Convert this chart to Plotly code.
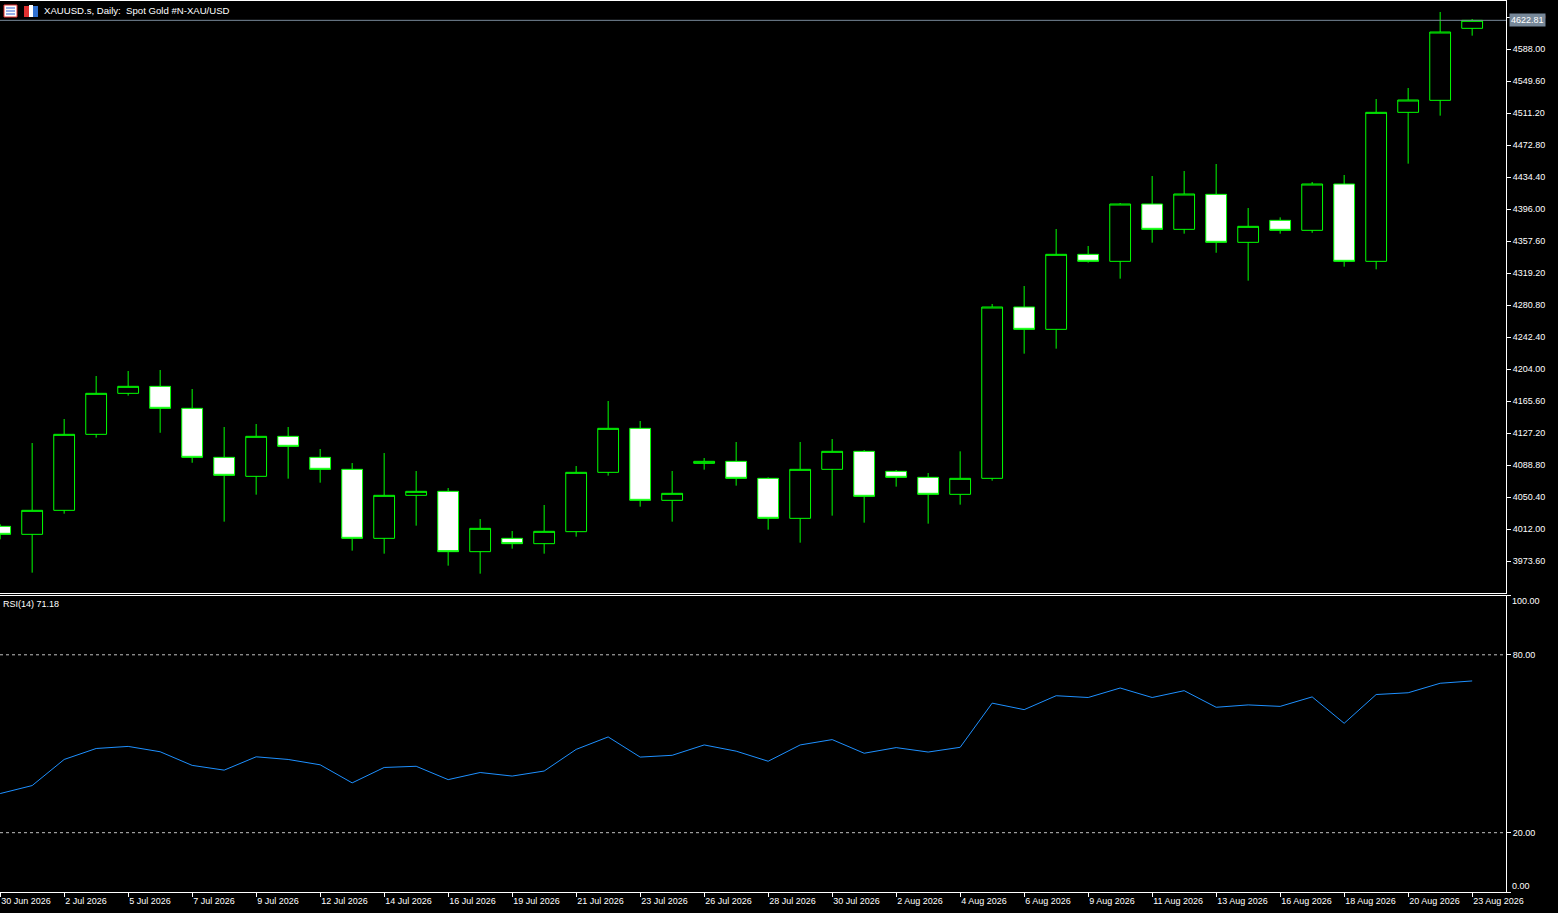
import plotly.graph_objects as go

# Bougies journalières XAUUSD.s (dimanche-vendredi, pas de samedi)
dates = [
    "30 Jun 2026", "1 Jul 2026", "2 Jul 2026", "3 Jul 2026",
    "5 Jul 2026", "6 Jul 2026", "7 Jul 2026", "8 Jul 2026", "9 Jul 2026", "10 Jul 2026",
    "12 Jul 2026", "13 Jul 2026", "14 Jul 2026", "15 Jul 2026", "16 Jul 2026", "17 Jul 2026",
    "19 Jul 2026", "20 Jul 2026", "21 Jul 2026", "22 Jul 2026", "23 Jul 2026", "24 Jul 2026",
    "26 Jul 2026", "27 Jul 2026", "28 Jul 2026", "29 Jul 2026", "30 Jul 2026", "31 Jul 2026",
    "2 Aug 2026", "3 Aug 2026", "4 Aug 2026", "5 Aug 2026", "6 Aug 2026", "7 Aug 2026",
    "9 Aug 2026", "10 Aug 2026", "11 Aug 2026", "12 Aug 2026", "13 Aug 2026", "14 Aug 2026",
    "16 Aug 2026", "17 Aug 2026", "18 Aug 2026", "19 Aug 2026", "20 Aug 2026", "21 Aug 2026",
    "23 Aug 2026",
]

opens = [
    4015.6, 4006.0, 4034.8, 4126.0,
    4175.2, 4183.6, 4157.2, 4098.4, 4075.6, 4123.6,
    4098.4, 4084.0, 4001.2, 4052.8, 4057.6, 3985.2,
    4001.2, 3994.8, 4009.2, 4080.4, 4133.2, 4046.8,
    4091.2, 4093.6, 4073.2, 4025.2, 4084.0, 4105.6,
    4081.6, 4074.4, 4054.0, 4073.2, 4278.8, 4252.0,
    4342.0, 4333.6, 4402.4, 4372.0, 4414.0, 4356.4,
    4382.8, 4370.8, 4426.4, 4333.6, 4512.4, 4526.8,
    4613.2,
]
highs = [
    4018.0, 4115.6, 4144.4, 4196.0,
    4202.0, 4203.2, 4180.4, 4134.8, 4138.4, 4134.8,
    4108.4, 4091.6, 4103.6, 4082.0, 4061.6, 4024.4,
    4010.0, 4041.2, 4088.0, 4166.0, 4142.0, 4082.0,
    4097.6, 4116.8, 4074.4, 4116.8, 4120.4, 4107.2,
    4083.2, 4079.6, 4105.6, 4282.4, 4304.0, 4372.4,
    4352.0, 4403.6, 4436.0, 4442.0, 4450.4, 4397.6,
    4386.4, 4428.8, 4437.2, 4528.4, 4541.6, 4632.8,
    4624.4,
]
lows = [
    4000.0, 3960.0, 4030.8, 4122.0,
    4172.4, 4127.9, 4091.9, 4021.2, 4053.6, 4072.8,
    4068.0, 3986.4, 3982.8, 4016.4, 3968.4, 3958.8,
    3988.8, 3982.8, 4003.2, 4076.4, 4039.2, 4021.2,
    4083.6, 4064.4, 4011.6, 3996.0, 4028.4, 4020.0,
    4063.2, 4018.8, 4041.6, 4070.4, 4222.8, 4228.8,
    4332.0, 4312.8, 4356.0, 4366.8, 4343.9, 4310.4,
    4366.8, 4367.9, 4327.2, 4324.0, 4450.8, 4508.4,
    4604.4,
]
closes = [
    4006.0, 4034.8, 4126.0, 4175.2,
    4183.6, 4157.2, 4098.4, 4076.8, 4123.6, 4111.6,
    4084.0, 4001.2, 4052.8, 4057.6, 3985.2, 4013.2,
    3994.8, 4009.6, 4080.4, 4133.2, 4046.8, 4055.2,
    4093.6, 4073.2, 4025.2, 4084.0, 4105.6, 4051.6,
    4074.4, 4054.0, 4073.2, 4278.8, 4252.0, 4342.0,
    4333.6, 4402.4, 4372.0, 4414.4, 4356.4, 4375.6,
    4370.8, 4426.4, 4333.6, 4512.4, 4527.2, 4608.8,
    4622.81,
]

# RSI(14)
rsi = [
    33.2, 35.9, 44.7, 48.4, 49.1, 47.3, 42.7, 41.1, 45.6, 44.7,
    42.9, 36.8, 42.0, 42.4, 37.9, 40.3, 39.1, 40.8, 48.1, 52.3,
    45.5, 46.1, 49.6, 47.5, 44.1, 49.6, 51.4, 46.8, 48.7, 47.2,
    48.8, 63.7, 61.5, 66.2, 65.6, 68.8, 65.6, 67.9, 62.3, 63.1,
    62.6, 65.8, 56.9, 66.6, 67.2, 70.4, 71.18,
]
rsi_levels = [80, 20]

price_ticks = [3973.6, 4012.0, 4050.4, 4088.8, 4127.2, 4165.6, 4204.0, 4242.4,
               4280.8, 4319.2, 4357.6, 4396.0, 4434.4, 4472.8, 4511.2, 4549.6,
               4588.0, 4626.4]
rsi_ticks = [0, 20, 80, 100]
date_ticks = dates[::2]

W, H = 1558, 913
ML, MR, MT, MB = 0, 52, 0, 21
PW, PH = W - ML - MR, H - MT - MB

def px_x(px):
    return (px - ML) / PW

def px_y(py):
    return 1 - (py - MT) / PH

FONT = "Liberation Sans, Arial, sans-serif"
GREEN = "#00ff00"

fig = go.Figure()

fig.add_trace(go.Candlestick(
    x=dates, open=opens, high=highs, low=lows, close=closes,
    increasing=dict(line=dict(color=GREEN, width=1), fillcolor="#000000"),
    decreasing=dict(line=dict(color=GREEN, width=1), fillcolor="#ffffff"),
    whiskerwidth=0, xaxis="x", yaxis="y", showlegend=False,
))

fig.add_trace(go.Scatter(
    x=dates, y=rsi, mode="lines", line=dict(color="#1e90ff", width=1),
    xaxis="x2", yaxis="y2", showlegend=False,
))

axis_common = dict(showgrid=False, zeroline=False, showline=True, mirror=True,
                   linecolor="#ffffff", linewidth=1, automargin=False)

# 0 et 100 : libellés décalés vers l'intérieur comme dans MT4
rsi_ticktext = [f"{v:.2f}" if v not in (0, 100) else "" for v in rsi_ticks]

fig.update_layout(
    width=W, height=H,
    margin=dict(l=ML, r=MR, t=MT, b=MB, autoexpand=False),
    paper_bgcolor="#000000", plot_bgcolor="#000000",
    font=dict(family=FONT, size=9, color="#ffffff"),
    boxgap=0.35, boxgroupgap=0,
    xaxis=dict(domain=[0, 1], anchor="y", type="category",
               range=[-0.005, 47.0575], showticklabels=False,
               rangeslider=dict(visible=False), **axis_common),
    xaxis2=dict(domain=[0, 1], anchor="y2", type="category", matches="x",
                tickmode="array", tickvals=date_ticks, ticktext=date_ticks,
                ticks="outside", ticklen=4, tickcolor="#ffffff",
                ticklabelposition="outside right",
                tickfont=dict(family=FONT, size=9, color="#ffffff"),
                **axis_common),
    yaxis=dict(domain=[px_y(593), px_y(0.5)], anchor="x", side="right",
               range=[3935.6, 4646.6], tickmode="array", tickvals=price_ticks,
               ticktext=[f"{v:.2f}" for v in price_ticks],
               ticks="outside", ticklen=4, tickcolor="#ffffff",
               tickfont=dict(family=FONT, size=9, color="#ffffff"),
               **axis_common),
    yaxis2=dict(domain=[0, px_y(595.5)], anchor="x2", side="right",
                range=[0, 100], tickmode="array", tickvals=rsi_ticks,
                ticktext=rsi_ticktext,
                ticks="outside", ticklen=4, tickcolor="#ffffff",
                tickfont=dict(family=FONT, size=9, color="#ffffff"),
                **axis_common),
)

for v, py in ((100, 601), (0, 886)):
    fig.add_annotation(xref="paper", yref="paper", x=1, y=px_y(py), xanchor="left",
                       yanchor="middle", xshift=4, text=f"{v:.2f}", showarrow=False,
                       font=dict(family=FONT, size=9, color="#ffffff"))

# niveaux RSI en pointillés
for lvl in rsi_levels:
    fig.add_shape(type="line", xref="x2 domain", yref="y2", x0=0, x1=1, y0=lvl, y1=lvl,
                  line=dict(color="#c0c0c0", width=1, dash="3px,3px"))

# ligne du dernier prix
last = closes[-1]
fig.add_shape(type="line", xref="x domain", yref="y", x0=0, x1=1, y0=last, y1=last,
              line=dict(color="#778899", width=1))
fig.add_annotation(xref="paper", yref="y", x=1, y=last, xanchor="left", yanchor="middle",
                   xshift=3, text=f"{last:.2f}", showarrow=False,
                   bgcolor="#778899", borderpad=1,
                   font=dict(family=FONT, size=9, color="#ffffff"))

# titre + icônes
fig.add_annotation(xref="paper", yref="paper", x=px_x(42), y=px_y(11), xanchor="left",
                   yanchor="middle", text="XAUUSD.s, Daily:  Spot Gold #N-XAU/USD",
                   showarrow=False, font=dict(family=FONT, size=9.6, color="#ffffff"))
fig.add_shape(type="rect", xref="paper", yref="paper", x0=px_x(4), x1=px_x(17),
              y0=px_y(17), y1=px_y(5), fillcolor="#ffffff", line=dict(color="#e03030", width=1))
for yy in (8, 11, 14):
    fig.add_shape(type="line", xref="paper", yref="paper", x0=px_x(6), x1=px_x(15),
                  y0=px_y(yy), y1=px_y(yy), line=dict(color="#3060d0", width=1))
fig.add_shape(type="rect", xref="paper", yref="paper", x0=px_x(24), x1=px_x(29),
              y0=px_y(17), y1=px_y(6), fillcolor="#e03030", line=dict(width=0))
fig.add_shape(type="rect", xref="paper", yref="paper", x0=px_x(29), x1=px_x(33),
              y0=px_y(17), y1=px_y(5), fillcolor="#ffffff", line=dict(width=0))
fig.add_shape(type="rect", xref="paper", yref="paper", x0=px_x(33), x1=px_x(38),
              y0=px_y(17), y1=px_y(6), fillcolor="#3070d0", line=dict(width=0))

# étiquette RSI
fig.add_annotation(xref="paper", yref="paper", x=px_x(1), y=px_y(604), xanchor="left",
                   yanchor="middle", text=f"RSI(14) {rsi[-1]:.2f}", showarrow=False,
                   font=dict(family=FONT, size=9, color="#ffffff"))

fig.write_html("out.html", config={"displayModeBar": False},
               post_script="document.body.style.margin='0';")
